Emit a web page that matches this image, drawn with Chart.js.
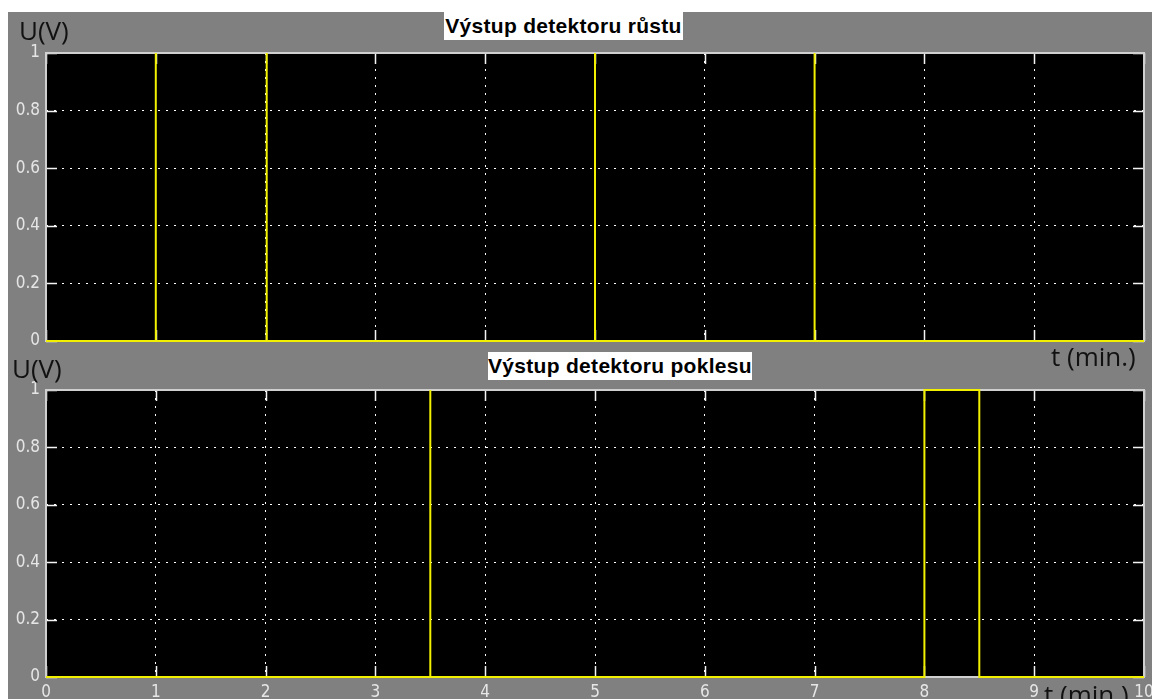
<!DOCTYPE html>
<html>
<head>
<meta charset="utf-8">
<script src="https://cdn.jsdelivr.net/npm/chart.js@4"></script>
<style>
  body { margin: 0; background: #fff; }
  #wrap { position: relative; width: 1152px; height: 699px; overflow: hidden; }
  #bg { position: absolute; left: 8px; top: 12px; right: 0; bottom: 0; background: #808080; }
  canvas { position: absolute; left: 0; top: 0; }
  .title {
    position: absolute; background: #fff; color: #000; text-align: center;
    font-family: "Liberation Sans", Arial, sans-serif; font-weight: bold; font-size: 21px;
    height: 28px; line-height: 28px; white-space: nowrap; letter-spacing: 0.3px;
  }
  .lab { position: absolute; font-family: "Open Sans", "Noto Sans", sans-serif; font-size: 26px; color: #111; line-height: 1; white-space: nowrap; }
</style>
</head>
<body>
<div id="wrap">
  <div id="bg"></div>
  <canvas id="riseChart" width="1152" height="699"></canvas>
  <canvas id="fallChart" width="1152" height="699"></canvas>
  <div class="title" style="left:444px; top:12px; width:239px;">Výstup detektoru růstu</div>
  <div class="title" style="left:488px; top:352px; width:264px;">Výstup detektoru poklesu</div>
  <div class="lab" style="left:19px; top:17px;">U(V)</div>
  <div class="lab" style="left:12px; top:355px;">U(V)</div>
  <div class="lab" style="left:1051px; top:343px;">t (min.)</div>
  <div class="lab" style="left:1044px; top:681px;">t (min.)</div>
</div>
<script>
// axis ticks
const tTicks = [0, 1, 2, 3, 4, 5, 6, 7, 8, 9, 10];
const uTicks = [0, 0.2, 0.4, 0.6, 0.8, 1];

// growth detector output (impulses)
const riseT = [0, 1, 1, 1, 2.01, 2.01, 2.01, 5, 5, 5, 7, 7, 7, 10];
const riseU = [0, 0, 1, 0, 0, 1, 0, 0, 1, 0, 0, 1, 0, 0];

// drop detector output
const fallT = [0, 3.5, 3.5, 3.5, 8, 8, 8.5, 8.5, 10];
const fallU = [0, 0, 1, 0, 0, 1, 1, 0, 0];

const lineColor = '#f0f000';
const frameColor = '#d0d0d0';
const tickFont = { family: '"DejaVu Sans Condensed", "DejaVu Sans", sans-serif', size: 17 };

// black plot area, then frame + inward tick marks under the data
const framePlugin = {
  id: 'frame',
  beforeDraw(chart) {
    const a = chart.chartArea;
    chart.ctx.save();
    chart.ctx.fillStyle = '#000';
    chart.ctx.fillRect(a.left, a.top, a.right - a.left, a.bottom - a.top);
    chart.ctx.restore();
  },
  beforeDatasetsDraw(chart) {
    const ctx = chart.ctx;
    const a = chart.chartArea;
    const xs = chart.scales.x, ys = chart.scales.y;
    const len = 11;
    ctx.save();
    ctx.strokeStyle = '#f4f4f4';
    ctx.lineWidth = 1.5;
    ctx.beginPath();
    tTicks.forEach(function(t) {
      const px = Math.round(xs.getPixelForValue(t)) + 0.5;
      ctx.moveTo(px, a.bottom); ctx.lineTo(px, a.bottom - len);
      ctx.moveTo(px, a.top); ctx.lineTo(px, a.top + len);
    });
    uTicks.forEach(function(u) {
      const py = Math.round(ys.getPixelForValue(u)) + 0.5;
      ctx.moveTo(a.left, py); ctx.lineTo(a.left + len, py);
      ctx.moveTo(a.right, py); ctx.lineTo(a.right - len, py);
    });
    ctx.stroke();
    ctx.strokeStyle = frameColor;
    ctx.lineWidth = 2;
    ctx.strokeRect(a.left, a.top, a.right - a.left, a.bottom - a.top);
    ctx.restore();
  }
};

function makeChart(id, xs, ys, showX, padTop, padBottom) {
  const points = xs.map(function(x, i) { return { x: x, y: ys[i] }; });
  return new Chart(document.getElementById(id), {
    type: 'line',
    data: {
      datasets: [{
        data: points,
        borderColor: lineColor,
        borderWidth: 2,
        pointRadius: 0,
        tension: 0,
        clip: false
      }]
    },
    options: {
      responsive: false,
      animation: false,
      events: [],
      layout: { padding: { left: 0, right: 8, top: padTop, bottom: padBottom } },
      plugins: { legend: { display: false }, tooltip: { enabled: false } },
      scales: {
        x: {
          type: 'linear', min: 0, max: 10,
          afterBuildTicks: function(s) { s.ticks = tTicks.map(function(v) { return { value: v }; }); },
          afterFit: function(s) { s.height = showX ? 22 : 0; s.paddingLeft = 0; s.paddingRight = 0; },
          grid: { color: '#ffffff', lineWidth: 1, drawTicks: false },
          border: { display: false, dash: [2, 6] },
          ticks: { display: showX, color: '#e6e6e6', font: tickFont, padding: 5, maxRotation: 0, autoSkip: false,
                   callback: function(v) { return String(v); } }
        },
        y: {
          min: 0, max: 1,
          afterBuildTicks: function(s) { s.ticks = uTicks.map(function(v) { return { value: v }; }); },
          afterFit: function(s) { s.width = 46; s.paddingTop = 0; s.paddingBottom = 0; },
          grid: { color: '#ffffff', lineWidth: 1, drawTicks: false },
          border: { display: false, dash: [2, 6] },
          ticks: { color: '#e6e6e6', font: tickFont, padding: 6,
                   callback: function(v) { return String(v); } }
        }
      }
    },
    plugins: [framePlugin]
  });
}

makeChart('riseChart', riseT, riseU, false, 53, 358);
makeChart('fallChart', fallT, fallU, true, 390, 0);
</script>
</body>
</html>
